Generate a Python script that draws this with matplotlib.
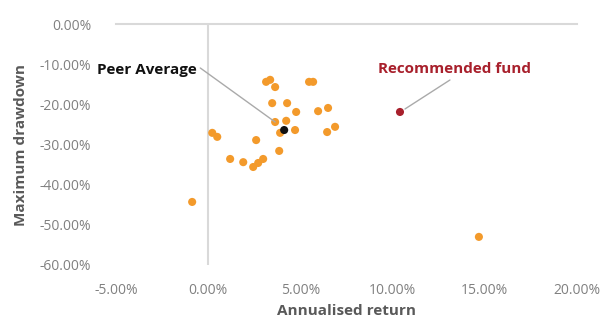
import matplotlib
matplotlib.use("Agg")
import matplotlib.pyplot as plt
from matplotlib.ticker import FuncFormatter

# Datos (rentabilidad anualizada %, caida maxima %)
peer_return = [3.14, 3.36, 3.63, 5.47, 5.69, 3.47, 4.28, 4.77, 5.96, 6.50,
               3.63, 4.23, 3.90, 4.71, 6.45, 6.88, 0.22, 0.49, 2.60, 3.85,
               1.19, 1.90, 2.44, 2.71, 2.98, -0.87, 14.68]
peer_drawdown = [-14.4, -13.9, -15.7, -14.4, -14.4, -19.7, -19.7, -21.9, -21.7, -20.9,
                 -24.4, -24.1, -27.1, -26.4, -26.9, -25.6, -27.1, -28.1, -28.9, -31.6,
                 -33.6, -34.4, -35.6, -34.6, -33.6, -44.3, -53.0]
avg_return, avg_drawdown = 4.12, -26.4
fund_return, fund_drawdown = 10.40, -21.9

x_ticks = [-5, 0, 5, 10, 15, 20]
y_ticks = [0, -10, -20, -30, -40, -50, -60]

plt.rcParams['font.family'] = ['Open Sans', 'DejaVu Sans']

fig = plt.figure(figsize=(6.06, 3.2), dpi=100)
ax = fig.add_axes([116/606, 1 - 265/320, (577 - 116)/606, (265 - 24)/320])

ax.scatter(peer_return, peer_drawdown, s=34, color='#F39A2B', edgecolors='none', zorder=3)
ax.scatter([avg_return], [avg_drawdown], s=34, color='#111111', edgecolors='none', zorder=4)
ax.scatter([fund_return], [fund_drawdown], s=34, color='#A8202C', edgecolors='none', zorder=4)

ax.set_xlim(-5, 20)
ax.set_ylim(-60, 0)
ax.set_xticks(x_ticks)
ax.set_yticks(y_ticks)
ax.xaxis.set_major_formatter(FuncFormatter(lambda v, p: f"{v:.2f}%"))
ax.yaxis.set_major_formatter(FuncFormatter(lambda v, p: f"{v:.2f}%"))
ax.tick_params(length=0, labelsize=10, labelcolor='#808080')
ax.tick_params(axis='y', pad=18)
ax.tick_params(axis='x', pad=13)

for s in ax.spines.values():
    s.set_visible(False)
ax.axhline(0, color='#d9d9d9', lw=1.5, zorder=1, clip_on=False)
ax.axvline(0, color='#d9d9d9', lw=1.5, zorder=1)

ax.set_xlabel('Annualised return', fontsize=11, color='#595959', fontweight='bold', labelpad=4)
ax.set_ylabel('Maximum drawdown', fontsize=11, color='#595959', fontweight='bold', labelpad=8)

# Etiquetas y lineas guia
ax.text(-0.6, -11.4, 'Peer Average', ha='right', va='center', fontsize=11,
        fontweight='bold', color='#111111')
ax.annotate('', xy=(3.63, -24.4), xytext=(-0.43, -10.95),
            arrowprops=dict(arrowstyle='-', color='#aaaaaa', lw=1, shrinkA=0, shrinkB=0))
ax.text(13.35, -11.2, 'Recommended fund', ha='center', va='center', fontsize=11,
        fontweight='bold', color='#A8202C')
ax.annotate('', xy=(10.67, -21.16), xytext=(13.11, -13.94),
            arrowprops=dict(arrowstyle='-', color='#aaaaaa', lw=1, shrinkA=0, shrinkB=0))

fig.savefig('out.png', dpi=100)
